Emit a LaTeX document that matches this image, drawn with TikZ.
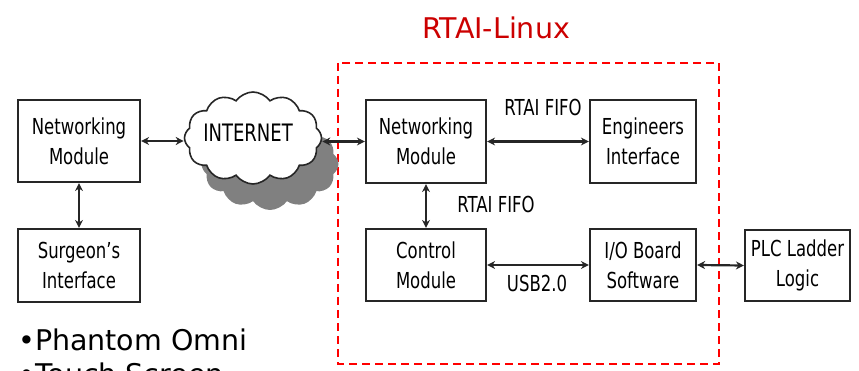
\documentclass[tikz,border=0pt]{standalone}
\usepackage{fontspec}
\setmainfont{DejaVu Sans}
\usepackage{graphicx}
\usetikzlibrary{shapes.symbols,arrows.meta}
\definecolor{titlered}{HTML}{CC0000}
\newcommand\bt[1]{\scalebox{0.75}[1]{#1}}
\tikzset{
  blk/.style={draw=black!85, line width=2.2pt, fill=white, align=center,
    font=\fontsize{22}{30}\selectfont, inner sep=0pt},
  lbl/.style={font=\fontsize{22}{30}\selectfont, inner sep=0pt},
  link/.style={line width=2.2pt, black!85, {Stealth[length=8pt,width=8pt]}-{Stealth[length=8pt,width=8pt]}},
  cloudshape/.style={cloud, cloud puffs=12, cloud puff arc=110, aspect=1.45,
    minimum width=137pt, minimum height=92pt, inner sep=0pt}
}
\begin{document}
\begin{tikzpicture}[x=1pt,y=-1pt]
\useasboundingbox (0,0) rectangle (859,371);
% red dashed region
\draw[red, line width=2.5pt, dash pattern=on 8pt off 5pt] (338,63) rectangle (719,364);
\node[text=titlered, font=\fontsize{28.5}{34}\selectfont] (title) at (496,28) {RTAI-Linux};
% boxes
\node[blk, minimum width=122pt, minimum height=82pt] (lnm) at (79,141) {\bt{Networking}\\\bt{Module}};
\node[blk, minimum width=122pt, minimum height=73pt] (si) at (79,265.5) {\bt{Surgeon’s}\\\bt{Interface}};
\node[blk, minimum width=120pt, minimum height=83pt] (rnm) at (426,141.5) {\bt{Networking}\\\bt{Module}};
\node[blk, minimum width=106pt, minimum height=83pt] (ei) at (643,141.5) {\bt{Engineers}\\\bt{Interface}};
\node[blk, minimum width=120pt, minimum height=72pt] (cm) at (426,265) {\bt{Control}\\\bt{Module}};
\node[blk, minimum width=106pt, minimum height=72pt] (io) at (643,265) {\bt{I/O Board}\\\bt{Software}};
\node[blk, minimum width=105pt, minimum height=71pt] (plc) at (797.5,265.5) {\bt{PLC Ladder}\\\bt{Logic}};
% cloud with shadow
\node[cloudshape, fill=black!50] (cloudsh) at (270,164) {};
\node[cloudshape, draw=black!85, line width=1.6pt, fill=white] (net) at (253,138) {};
\node[lbl] (nettext) at (248,133) {\bt{\fontsize{24}{30}\selectfont INTERNET}};
% labels
\node[lbl] (fifo1) at (543,107) {\bt{RTAI FIFO}};
\node[lbl] (fifo2) at (496,204) {\bt{RTAI FIFO}};
\node[lbl] (usb) at (537,283) {\bt{USB2.0}};
% connectors
\draw[link] (lnm.east) -- (net.west |- lnm.east);
\draw[link] (net.east |- rnm.west) -- (rnm.west);
\draw[link] (lnm.south) -- (si.north);
\draw[link] (rnm.east) -- (ei.west);
\draw[link] (rnm.south) -- (cm.north);
\draw[link] (cm.east) -- (io.west);
\draw[link] (io.east) -- (plc.west);
% bullet list
\node[anchor=base west, inner sep=0pt, font=\fontsize{28.5}{34}\selectfont] (b1) at (18,350) {•Phantom Omni};
\node[anchor=base west, inner sep=0pt, font=\fontsize{28.5}{34}\selectfont] (b2) at (18,384) {•Touch Screen};
\end{tikzpicture}
\end{document}
